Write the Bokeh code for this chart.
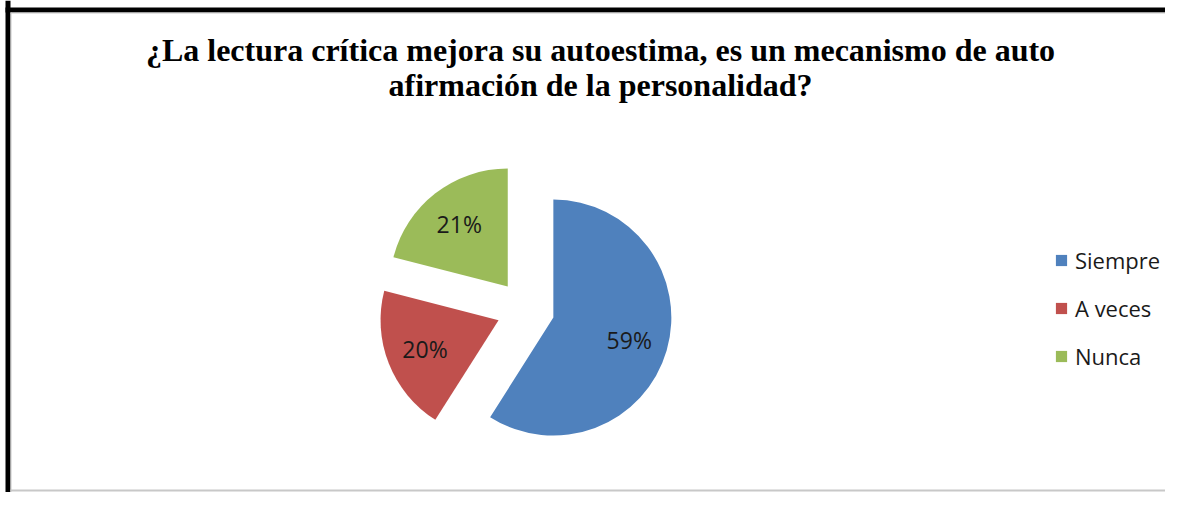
import math
from bokeh.plotting import figure
from bokeh.models import Range1d, Label, BoxAnnotation, Legend, LegendItem, ColumnDataSource
from bokeh.core.properties import value
from bokeh.embed import file_html
from bokeh.resources import INLINE

# ---- data ----
categories = ["Siempre", "A veces", "Nunca"]
values = [59, 20, 21]
pct_labels = ["59%", "20%", "21%"]
colors = ["#4F81BD", "#C0504D", "#9BBB59"]
title_lines = ["¿La lectura crítica mejora su autoestima, es un mecanismo de auto",
               "afirmación de la personalidad?"]

# ---- layout (pixels from top-left of figure; data y = H - pixel y) ----
W, H = 1165, 492
def Y(py):
    return H - py

cx, cy = 525, Y(309)
radius = 118
explode = 29
label_frac = 0.67

p = figure(width=W, height=H, output_backend="svg", toolbar_location=None,
           x_range=Range1d(0, W), y_range=Range1d(0, H),
           min_border=0, border_fill_color="white", background_fill_color="white",
           outline_line_color=None)
p.xaxis.visible = False
p.yaxis.visible = False
p.grid.visible = False

total = float(sum(values))
xs, ys, starts, ends, lx, ly = [], [], [], [], [], []
acc = 0.0
for v in values:
    a0 = acc / total * 2 * math.pi          # clockwise from 12 o'clock
    a1 = (acc + v) / total * 2 * math.pi
    mid = (a0 + a1) / 2
    ox = cx + explode * math.sin(mid)
    oy = cy + explode * math.cos(mid)
    xs.append(ox)
    ys.append(oy)
    starts.append(math.pi / 2 - a1)
    ends.append(math.pi / 2 - a0)
    lx.append(ox + label_frac * radius * math.sin(mid))
    ly.append(oy + label_frac * radius * math.cos(mid))
    acc += v

src = ColumnDataSource(dict(x=xs, y=ys, start=starts, end=ends, color=colors,
                            cat=categories, lx=lx, ly=ly, txt=pct_labels))

wedges = p.wedge(x="x", y="y", radius=radius, start_angle="start", end_angle="end",
                 fill_color="color", line_color=None, source=src)

p.text(x="lx", y="ly", text="txt", source=src, text_align="center",
       text_baseline="middle", text_font=value("Open Sans"),
       text_font_size="23px", text_color="#1a1a1a")

# title
for line, py in zip(title_lines, [49, 84]):
    p.add_layout(Label(x=600, y=Y(py), text=line, text_align="center",
                       text_baseline="alphabetic", text_font="Liberation Serif",
                       text_font_style="bold", text_font_size="32px",
                       text_color="black"))

# outer dark frame (top and left) and light inner frame lines
p.add_layout(BoxAnnotation(left=5, right=10, fill_color="black", fill_alpha=1, line_color=None))
p.add_layout(BoxAnnotation(bottom=Y(12), top=Y(7), left=5, fill_color="black", fill_alpha=1, line_color=None))
p.add_layout(BoxAnnotation(left=10, right=11, top=Y(12), fill_color="#c8c8c8", fill_alpha=1, line_color=None))
p.add_layout(BoxAnnotation(left=10, bottom=Y(13), top=Y(12), fill_color="#c8c8c8", fill_alpha=1, line_color=None))
p.add_layout(BoxAnnotation(left=10, bottom=Y(491), top=Y(489), fill_color="#c8c8c8", fill_alpha=1, line_color=None))

legend = Legend(items=[LegendItem(label=c, renderers=[wedges], index=i)
                       for i, c in enumerate(categories)],
                location=(1054, 121), orientation="vertical",
                glyph_width=14, glyph_height=14, label_standoff=7, spacing=18,
                padding=0, margin=0, border_line_alpha=0, background_fill_alpha=0,
                label_text_font="Open Sans", label_text_font_size="22px",
                label_text_color="#1a1a1a")
p.add_layout(legend)

open("out.html", "w").write(file_html(p, INLINE))
